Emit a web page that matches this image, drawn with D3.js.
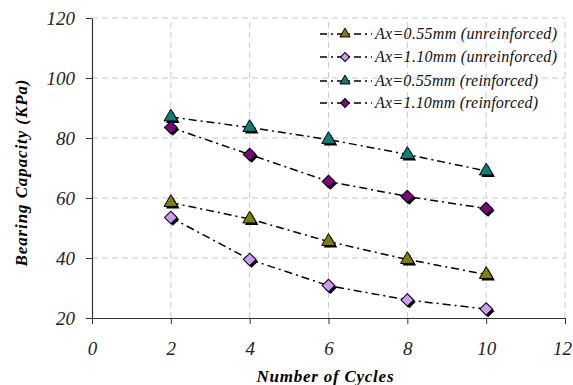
<!DOCTYPE html>
<html>
<head>
<meta charset="utf-8">
<script src="https://cdn.jsdelivr.net/npm/d3@7"></script>
<style>
  body { margin: 0; background: #fff; }
</style>
</head>
<body>
<div id="chart"></div>
<script>
const cycles = [2, 4, 6, 8, 10];
const unreinf055 = [58.5, 53, 45.5, 39.5, 34.5];
const unreinf110 = [53.5, 39.5, 30.8, 26, 23];
const reinf055 = [87, 83.5, 79.5, 74.5, 69];
const reinf110 = [83.5, 74.5, 65.5, 60.5, 56.5];
const xTicks = [0, 2, 4, 6, 8, 10, 12];
const yTicks = [20, 40, 60, 80, 100, 120];

const series = [
  {name: 'Ax=0.55mm (unreinforced)', values: unreinf055, shape: 'tri', fill: '#808000'},
  {name: 'Ax=1.10mm (unreinforced)', values: unreinf110, shape: 'dia', fill: '#cc99ff'},
  {name: 'Ax=0.55mm (reinforced)', values: reinf055, shape: 'tri', fill: '#008080'},
  {name: 'Ax=1.10mm (reinforced)', values: reinf110, shape: 'dia', fill: '#800080'}
];
const legendWidths = [182, 182, 163, 163];

const FONT = '"Liberation Serif"';
const width = 573, height = 385;
const margin = {left: 92, right: 8, top: 18, bottom: 67};

const svg = d3.select('#chart').append('svg')
  .attr('width', width)
  .attr('height', height);

const x = d3.scaleLinear().domain([0, 12]).range([margin.left, width - margin.right]);
const y = d3.scaleLinear().domain([20, 120]).range([height - margin.bottom, margin.top]);

// grid
const grid = svg.append('g').attr('stroke', '#c8c8c8').attr('stroke-dasharray', '6,4').attr('stroke-width', 1);
grid.selectAll('.vg').data(xTicks.slice(1)).join('line')
  .attr('x1', d => x(d)).attr('x2', d => x(d))
  .attr('y1', y(20)).attr('y2', y(120));
grid.selectAll('.hg').data(yTicks.slice(1)).join('line')
  .attr('x1', x(0)).attr('x2', x(12))
  .attr('y1', d => y(d)).attr('y2', d => y(d));

// axes
const xAxis = svg.append('g')
  .attr('transform', `translate(0,${y(20)})`)
  .call(d3.axisBottom(x).tickValues(xTicks).tickSize(6).tickSizeOuter(0));
const yAxis = svg.append('g')
  .attr('transform', `translate(${x(0)},0)`)
  .call(d3.axisLeft(y).tickValues(yTicks).tickSize(6).tickPadding(11).tickSizeOuter(0));
[xAxis, yAxis].forEach(a => {
  a.select('.domain').attr('stroke', '#333').attr('stroke-width', 1.2);
  a.selectAll('.tick line').attr('stroke', '#333');
  a.selectAll('.tick text')
    .style('font-family', FONT).style('font-style', 'italic').style('font-size', '19px')
    .attr('fill', '#222');
});
xAxis.selectAll('.tick text').attr('dy', null).attr('y', 37);
xAxis.selectAll('.tick').filter(d => d === 12).select('text').attr('dx', -3);
yAxis.selectAll('.tick text').attr('dy', '0.33em');

// axis titles
svg.append('text')
  .attr('x', 325).attr('y', 382)
  .attr('text-anchor', 'middle')
  .style('font-family', FONT).style('font-style', 'italic').style('font-weight', 'bold').style('font-size', '17px')
  .attr('textLength', 137)
  .text('Number of Cycles');
svg.append('text')
  .attr('transform', `translate(27,173) rotate(-90)`)
  .attr('text-anchor', 'middle')
  .style('font-family', FONT).style('font-style', 'italic').style('font-weight', 'bold').style('font-size', '17px')
  .attr('textLength', 187)
  .text('Bearing Capacity (KPa)');

const triPath = d3.symbol().type(d3.symbolTriangle).size(80);
const diaPath = d3.symbol().type(d3.symbolSquare).size(80);
const triSmall = d3.symbol().type(d3.symbolTriangle).size(45);
const diaSmall = d3.symbol().type(d3.symbolSquare).size(40);

function marker(g, s, cx, cy, small) {
  const p = s.shape === 'tri' ? (small ? triSmall() : triPath()) : (small ? diaSmall() : diaPath());
  const rot = s.shape === 'tri' ? '' : ' rotate(45)';
  if (!small) {
    g.append('path').attr('d', p)
      .attr('transform', `translate(${cx + 2},${cy + 2})${rot}`)
      .attr('fill', '#000');
  }
  g.append('path').attr('d', p)
    .attr('transform', `translate(${cx},${cy})${rot}`)
    .attr('fill', s.fill).attr('stroke', '#000').attr('stroke-width', 1);
}

const line = d3.line().x((d, i) => x(cycles[i])).y(d => y(d));

series.forEach(s => {
  const g = svg.append('g');
  g.append('path')
    .attr('d', line(s.values))
    .attr('fill', 'none').attr('stroke', '#000').attr('stroke-width', 1.5)
    .attr('stroke-dasharray', '8,4,2,4');
  s.values.forEach((v, i) => marker(g, s, x(cycles[i]), y(v)));
});

// legend
const legend = svg.append('g');
const legY = [34, 57, 81, 103];
series.forEach((s, i) => {
  const g = legend.append('g');
  g.append('line')
    .attr('x1', 320).attr('x2', 372)
    .attr('y1', legY[i]).attr('y2', legY[i])
    .attr('stroke', '#000').attr('stroke-width', 1.5)
    .attr('stroke-dasharray', '7,4,2,4');
  marker(g, s, 345, legY[i], true);
  g.append('text')
    .attr('x', 375).attr('y', legY[i] + 5)
    .style('font-family', FONT).style('font-style', 'italic').style('font-size', '16px')
    .attr('fill', '#111')
    .attr('textLength', legendWidths[i])
    .text(s.name);
});
</script>
</body>
</html>
